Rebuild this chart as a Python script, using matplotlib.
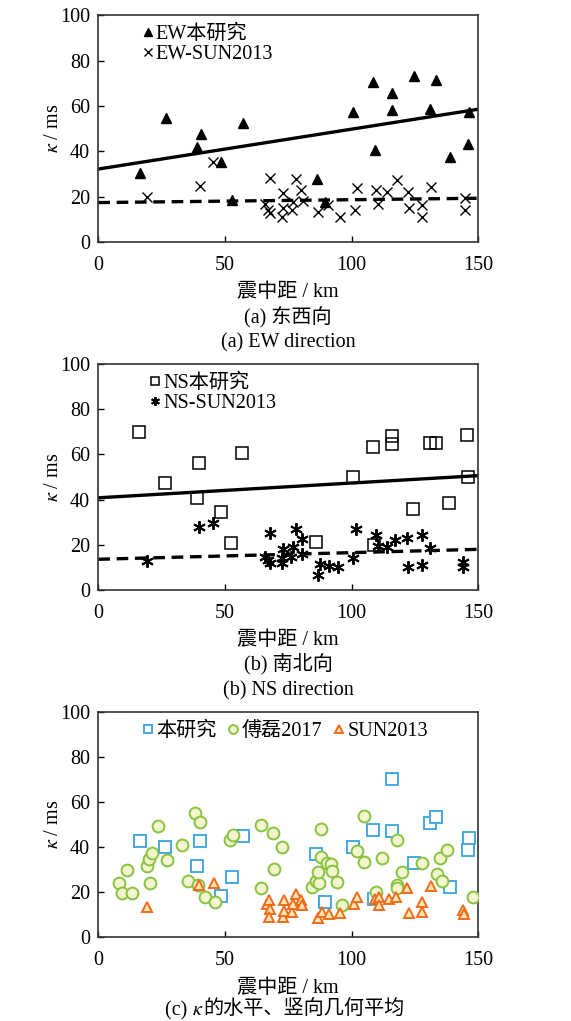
import matplotlib
matplotlib.use("Agg")
import matplotlib.pyplot as plt

plt.rcParams['font.family'] = ['Liberation Serif', 'Noto Sans CJK SC']
plt.rcParams['mathtext.fontset'] = 'stix'
plt.rcParams['font.size'] = 14

# (a) EW component
ew_this_x = [16.4, 26.6, 39.1, 40.4, 48.4, 52.9, 57.0, 86.2, 89.5, 100.7,
             108.6, 109.2, 116.1, 116.1, 124.7, 130.9, 133.3, 138.8, 145.8, 146.2]
ew_this_y = [30.3, 54.6, 42.1, 47.7, 35.2, 18.6, 52.7, 27.6, 17.6, 57.4,
             70.4, 40.6, 65.7, 58.3, 73.3, 58.9, 71.6, 37.7, 43.2, 57.4]
ew_sun_x = [19.3, 40.1, 45.4, 65.8, 67.1, 67.8, 67.8, 72.4, 73.0, 73.0,
            76.3, 76.8, 78.0, 80.0, 80.8, 86.8, 90.6, 95.4, 101.3, 102.0,
            109.6, 110.5, 113.8, 117.8, 122.3, 122.7, 127.6, 127.6, 131.3, 144.7, 144.7]
ew_sun_y = [19.7, 24.7, 35.5, 16.8, 14.1, 12.7, 28.1, 11.2, 15.0, 21.5,
            14.1, 17.8, 27.8, 23.0, 18.1, 13.4, 16.3, 11.2, 14.1, 23.7,
            23.0, 16.8, 22.2, 27.4, 22.2, 14.9, 16.3, 11.2, 24.4, 19.3, 14.1]
fit_x = [0, 150]
ew_this_fit = [32.2, 58.6]
ew_sun_fit = [17.4, 19.3]

# (b) NS component
ns_this_x = [16.2, 26.3, 38.8, 39.9, 48.3, 52.4, 56.8, 85.8, 100.7, 108.3,
             108.9, 115.8, 115.8, 124.3, 130.9, 133.3, 138.6, 145.4, 145.8]
ns_this_y = [70.1, 47.2, 40.6, 56.3, 34.7, 20.9, 60.8, 21.4, 50.1, 63.1,
             20.0, 68.1, 64.6, 35.8, 64.9, 65.2, 38.3, 68.6, 50.1]
ns_sun_x = [19.3, 39.9, 45.4, 65.8, 67.1, 67.8, 67.8, 72.4, 72.4, 73.0,
            75.9, 76.7, 78.0, 80.3, 80.3, 86.8, 87.5, 91.0, 94.7, 100.6,
            101.7, 109.6, 110.5, 113.8, 117.1, 121.7, 122.3, 127.6, 127.6, 130.9, 144.0, 144.0]
ns_sun_y = [12.8, 28.0, 29.5, 14.7, 13.3, 11.8, 25.1, 14.0, 11.8, 18.0,
            14.7, 19.2, 27.0, 22.6, 15.8, 6.6, 11.4, 10.8, 10.3, 14.0,
            27.0, 24.3, 19.6, 19.2, 22.1, 22.9, 10.3, 24.3, 11.1, 18.7, 12.5, 10.3]
ns_this_fit = [40.8, 50.6]
ns_sun_fit = [13.6, 18.0]

# (c) geometric mean of horizontal components
gm_this_x = [16.4, 26.3, 38.8, 40.1, 48.4, 52.6, 57.0, 85.9, 89.5, 100.7,
             108.3, 108.9, 116.1, 116.1, 124.7, 130.9, 133.3, 138.8, 145.8, 146.3]
gm_this_y = [42.8, 40.3, 31.9, 42.8, 18.4, 26.7, 45.0, 36.9, 15.9, 40.3,
             47.7, 16.9, 70.4, 47.3, 32.9, 50.7, 53.6, 22.5, 38.8, 44.3]
gm_fu_x = [8.3, 9.2, 11.4, 13.2, 19.1, 20.1, 21.3, 20.4, 23.4, 27.2,
           32.9, 35.3, 38.2, 40.1, 39.5, 42.1, 46.1, 52.0, 53.3, 64.1,
           64.1, 69.1, 69.5, 72.4, 84.2, 85.9, 87.2, 86.8, 87.9, 87.9,
           90.1, 91.7, 92.1, 94.1, 96.1, 102.0, 105.0, 105.0, 109.6, 111.8,
           117.8, 117.8, 118.1, 120.0, 127.6, 133.6, 134.9, 135.8, 137.8, 147.8]
gm_fu_y = [24.0, 19.9, 29.9, 19.6, 31.7, 34.7, 37.3, 24.3, 49.5, 34.4,
           41.0, 25.0, 55.1, 51.4, 23.3, 18.1, 15.9, 43.3, 45.5, 49.9,
           22.1, 46.5, 30.2, 40.3, 22.2, 25.2, 24.3, 29.2, 48.1, 35.9,
           33.2, 32.4, 29.6, 24.7, 14.4, 38.5, 33.3, 54.1, 20.0, 35.1,
           43.3, 23.3, 21.8, 29.2, 33.2, 28.1, 35.1, 25.0, 38.8, 18.1]
gm_sun_x = [19.3, 39.9, 45.7, 66.4, 67.5, 67.8, 67.5, 72.8, 73.4, 73.4,
            76.3, 77.0, 78.0, 80.0, 80.3, 86.8, 88.2, 91.2, 95.4, 101.1,
            102.0, 109.2, 110.8, 110.9, 114.7, 117.5, 122.0, 122.6, 127.9, 127.9,
            131.2, 144.1, 144.5]
gm_sun_y = [13.3, 23.3, 24.3, 14.8, 16.6, 12.4, 8.9, 8.9, 16.6, 11.9,
            11.4, 14.8, 19.3, 16.6, 14.4, 8.4, 11.4, 10.4, 11.0, 14.7,
            18.1, 17.0, 18.1, 14.4, 16.9, 17.8, 21.8, 11.0, 15.9, 11.1,
            22.8, 12.1, 10.4]

xticks = [0, 50, 100, 150]
yticks = [0, 20, 40, 60, 80, 100]

fig = plt.figure(figsize=(5.71, 10.21), dpi=100)
W, H = 571.0, 1021.0
DASH = (0, (3.5, 2))


def make_axes(top_px, bottom_px):
    left, right = 98.3, 478.3
    ax = fig.add_axes([left / W, 1 - bottom_px / H, (right - left) / W, (bottom_px - top_px) / H])
    ax.set_xlim(0, 150)
    ax.set_ylim(0, 100)
    ax.set_xticks(xticks)
    ax.set_yticks(yticks)
    ax.tick_params(direction='in', length=4, width=1.0, labelsize=14.5)
    ax.tick_params(axis='x', pad=10)
    ax.tick_params(axis='y', pad=6)
    for s in ax.spines.values():
        s.set_linewidth(1.2)
        s.set_color('#333333')
    ax.set_xlabel('震中距 / km', fontsize=14.5, labelpad=6)
    ax.set_ylabel(r'$\kappa$ / ms', fontsize=14.5, labelpad=-2)
    return ax


# ---- (a)
ax1 = make_axes(15.4, 242.0)
ax1.plot(fit_x, ew_this_fit, color='black', lw=2.4, zorder=2)
ax1.plot(fit_x, ew_sun_fit, color='black', lw=2.4, ls=DASH, zorder=2)
ax1.plot(ew_this_x, ew_this_y, ls='none', marker='^', ms=7.5, color='black', label='EW本研究', zorder=3)
ax1.plot(ew_sun_x, ew_sun_y, ls='none', marker='x', ms=7, mew=1.0, color='black', label='EW-SUN2013', zorder=3)
ax1.legend(loc='upper left', bbox_to_anchor=(0.08, 1.02), frameon=False, handlelength=0.5,
           handletextpad=0.15, labelspacing=0.05, markerscale=0.8, fontsize=14.5, borderpad=0.2)
fig.text(288.3 / W, 1 - 317 / H, '(a) 东西向', ha='center', va='center', fontsize=14.5)
fig.text(288.3 / W, 1 - 343 / H, '(a) EW direction', ha='center', va='center', fontsize=14.5)

# ---- (b)
ax2 = make_axes(364.0, 590.0)
ax2.plot(fit_x, ns_this_fit, color='black', lw=2.4, zorder=2)
ax2.plot(fit_x, ns_sun_fit, color='black', lw=2.4, ls=DASH, zorder=2)
ax2.plot(ns_this_x, ns_this_y, ls='none', marker='s', ms=8, mfc='none', mec='black', mew=1.1,
         label='NS本研究', zorder=3)
ax2.plot(ns_sun_x, ns_sun_y, ls='none', marker=(6, 2, 0), ms=9, mew=1.4, color='black',
         label='NS-SUN2013', zorder=3)
ax2.legend(loc='upper left', bbox_to_anchor=(0.1, 1.02), frameon=False, handlelength=0.5,
           handletextpad=0.15, labelspacing=0.05, markerscale=0.7, fontsize=14.5, borderpad=0.2)
fig.text(288.3 / W, 1 - 664 / H, '(b) 南北向', ha='center', va='center', fontsize=14.5)
fig.text(288.3 / W, 1 - 691 / H, '(b) NS direction', ha='center', va='center', fontsize=14.5)

# ---- (c)
ax3 = make_axes(712.3, 937.3)
ax3.plot(gm_this_x, gm_this_y, ls='none', marker='s', ms=8, mfc='white', mec='#45a8e2', mew=1.4,
         label='本研究', zorder=3)
ax3.plot(gm_fu_x, gm_fu_y, ls='none', marker='o', ms=8.5, mfc='#f4f4cf', mec='#86c440', mew=1.4,
         label='傅磊2017', zorder=3)
ax3.plot(gm_sun_x, gm_sun_y, ls='none', marker='^', ms=7.5, mfc='#fbe7b0', mec='#f26b1d', mew=1.4,
         label='SUN2013', zorder=4)
ax3.legend(loc='upper left', bbox_to_anchor=(0.08, 1.02), frameon=False, ncol=3, handlelength=0.5,
           handletextpad=0.15, columnspacing=0.6, markerscale=0.75, fontsize=14.5, borderpad=0.2)

# caption with italic kappa: chain three pieces so the CJK part keeps its fallback font
cap_y = 1 - 1015 / H
t1 = fig.text(165 / W, cap_y, '(c) ', ha='left', va='baseline', fontsize=14.5)
t2 = fig.text(0, cap_y, r'$\kappa$', ha='left', va='baseline', fontsize=14.5)
t3 = fig.text(0, cap_y, '的水平、竖向几何平均', ha='left', va='baseline', fontsize=14.5)
fig.canvas.draw()
r = fig.canvas.get_renderer()
t2.set_x(t1.get_window_extent(r).x1 / fig.bbox.width)
t3.set_x(t2.get_window_extent(r).x1 / fig.bbox.width)

fig.savefig('out.png', dpi=100)
